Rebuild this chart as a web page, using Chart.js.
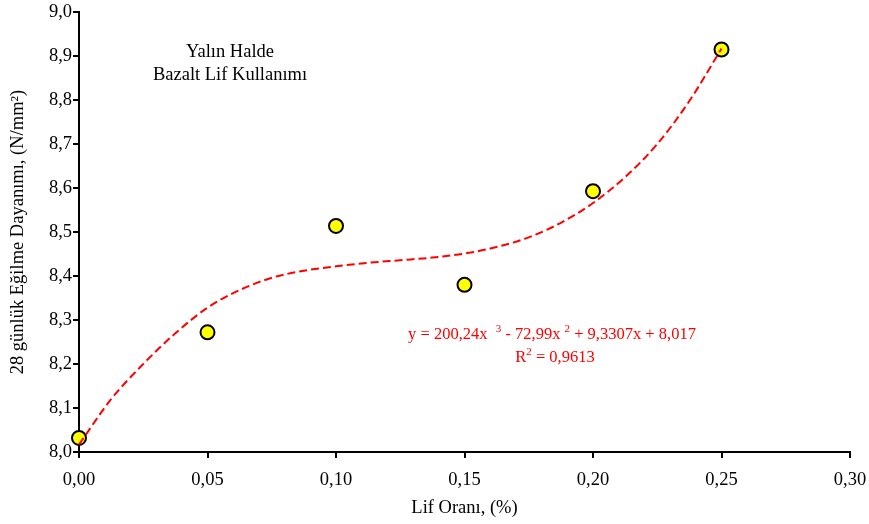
<!DOCTYPE html>
<html lang="tr">
<head>
  <meta charset="UTF-8" />
  <title>Lif Oranı – Eğilme Dayanımı</title>
  <script src="https://cdn.jsdelivr.net/npm/chart.js@4"></script>
  <style>
    * { box-sizing: border-box; margin: 0; padding: 0; }
    body { background: #fff; width: 869px; height: 524px; overflow: hidden; }
    #wrap { position: relative; width: 869px; height: 524px; }
  </style>
</head>
<body>
  <div id="wrap"><canvas id="chart"></canvas></div>

  <script>
    // measured points
    const lifOrani = [0, 0.05, 0.10, 0.15, 0.20, 0.25];
    const dayanim = [8.032, 8.272, 8.514, 8.380, 8.593, 8.915];

    // trend curve
    const trendX = [0, 0.0125, 0.025, 0.0375, 0.05, 0.0625, 0.075, 0.0875, 0.10, 0.1125,
                    0.125, 0.1375, 0.15, 0.1625, 0.175, 0.1875, 0.20, 0.2125, 0.225, 0.2375, 0.25];
    const trendY = [8.017, 8.120, 8.200, 8.270, 8.328, 8.368, 8.396, 8.412, 8.422, 8.430,
                    8.436, 8.442, 8.451, 8.466, 8.488, 8.521, 8.566, 8.625, 8.700, 8.798, 8.917];

    const xTicks = [0, 0.05, 0.10, 0.15, 0.20, 0.25, 0.30];
    const yTicks = [8.0, 8.1, 8.2, 8.3, 8.4, 8.5, 8.6, 8.7, 8.8, 8.9, 9.0];

    const FONT = "'Liberation Serif', 'Times New Roman', serif";

    const notes = {
      id: 'notes',
      afterDraw(chart) {
        const ctx = chart.ctx;
        ctx.save();
        ctx.fillStyle = '#000';
        ctx.font = '18.5px ' + FONT;
        ctx.textAlign = 'center';
        ctx.textBaseline = 'middle';
        ctx.fillText('Yalın Halde', 230, 52);
        ctx.fillText('Bazalt Lif Kullanımı', 230, 75);

        // equation, red, with raised exponents
        const parts = [
          ['y = 200,24x  ', false], ['3', true], [' - 72,99x ', false], ['2', true],
          [' + 9,3307x + 8,017', false]
        ];
        const big = '16.5px ' + FONT, small = '11px ' + FONT;
        let w = 0;
        parts.forEach(p => { ctx.font = p[1] ? small : big; w += ctx.measureText(p[0]).width; });
        let x = 552 - w / 2;
        ctx.fillStyle = '#ff0000';
        ctx.textAlign = 'left';
        ctx.textBaseline = 'alphabetic';
        parts.forEach(p => {
          ctx.font = p[1] ? small : big;
          ctx.fillText(p[0], x, p[1] ? 332 : 339);
          x += ctx.measureText(p[0]).width;
        });

        const r2 = [['R', false], ['2', true], [' = 0,9613', false]];
        w = 0;
        r2.forEach(p => { ctx.font = p[1] ? small : big; w += ctx.measureText(p[0]).width; });
        x = 555 - w / 2;
        r2.forEach(p => {
          ctx.font = p[1] ? small : big;
          ctx.fillText(p[0], x, p[1] ? 355 : 362);
          x += ctx.measureText(p[0]).width;
        });
        ctx.restore();
      }
    };

    new Chart(document.getElementById('chart'), {
      type: 'scatter',
      data: {
        datasets: [
          {
            label: 'Trend',
            data: trendX.map((x, i) => ({ x, y: trendY[i] })),
            showLine: true,
            borderColor: '#ff0000',
            borderWidth: 2,
            borderDash: [8, 4],
            pointRadius: 0,
            tension: 0.4,
            cubicInterpolationMode: 'monotone',
            clip: false,
            order: 0
          },
          {
            label: 'Deney',
            data: lifOrani.map((x, i) => ({ x, y: dayanim[i] })),
            backgroundColor: '#ffff00',
            borderColor: '#000',
            borderWidth: 2,
            pointRadius: 7,
            clip: false,
            order: 1
          }
        ]
      },
      options: {
        responsive: true,
        maintainAspectRatio: false,
        animation: false,
        layout: { padding: { left: 0, right: 0, top: 8, bottom: 0 } },
        plugins: { legend: { display: false }, tooltip: { enabled: false } },
        scales: {
          x: {
            type: 'linear',
            min: 0, max: 0.30,
            afterBuildTicks: s => { s.ticks = xTicks.map(v => ({ value: v })); },
            afterFit: s => { s.height = 72; s.paddingRight = 19; },
            border: { display: true, color: '#000', width: 2 },
            grid: { drawOnChartArea: false, drawTicks: true, tickLength: 6, color: '#000', lineWidth: 2 },
            ticks: {
              color: '#000', font: { family: FONT, size: 18.5 }, padding: 11,
              maxRotation: 0,
              callback: v => v.toFixed(2).replace('.', ',')
            },
            title: {
              display: true, text: 'Lif Oranı, (%)', color: '#000',
              font: { family: FONT, size: 18.5 }, padding: { top: 0, bottom: 5 }
            }
          },
          y: {
            type: 'linear',
            min: 8.0, max: 9.0,
            afterBuildTicks: s => { s.ticks = yTicks.map(v => ({ value: v })); },
            afterFit: s => { s.width = 79; },
            border: { display: true, color: '#000', width: 2 },
            grid: { drawOnChartArea: false, drawTicks: true, tickLength: 6, color: '#000', lineWidth: 2 },
            ticks: {
              color: '#000', font: { family: FONT, size: 18.5 }, padding: 1,
              callback: v => v.toFixed(1).replace('.', ',')
            },
            title: {
              display: true, text: '28 günlük Eğilme Dayanımı, (N/mm²)', color: '#000',
              font: { family: FONT, size: 18.5 }, padding: { top: 7, bottom: 0 }
            }
          }
        }
      },
      plugins: [notes]
    });
  </script>
</body>
</html>
